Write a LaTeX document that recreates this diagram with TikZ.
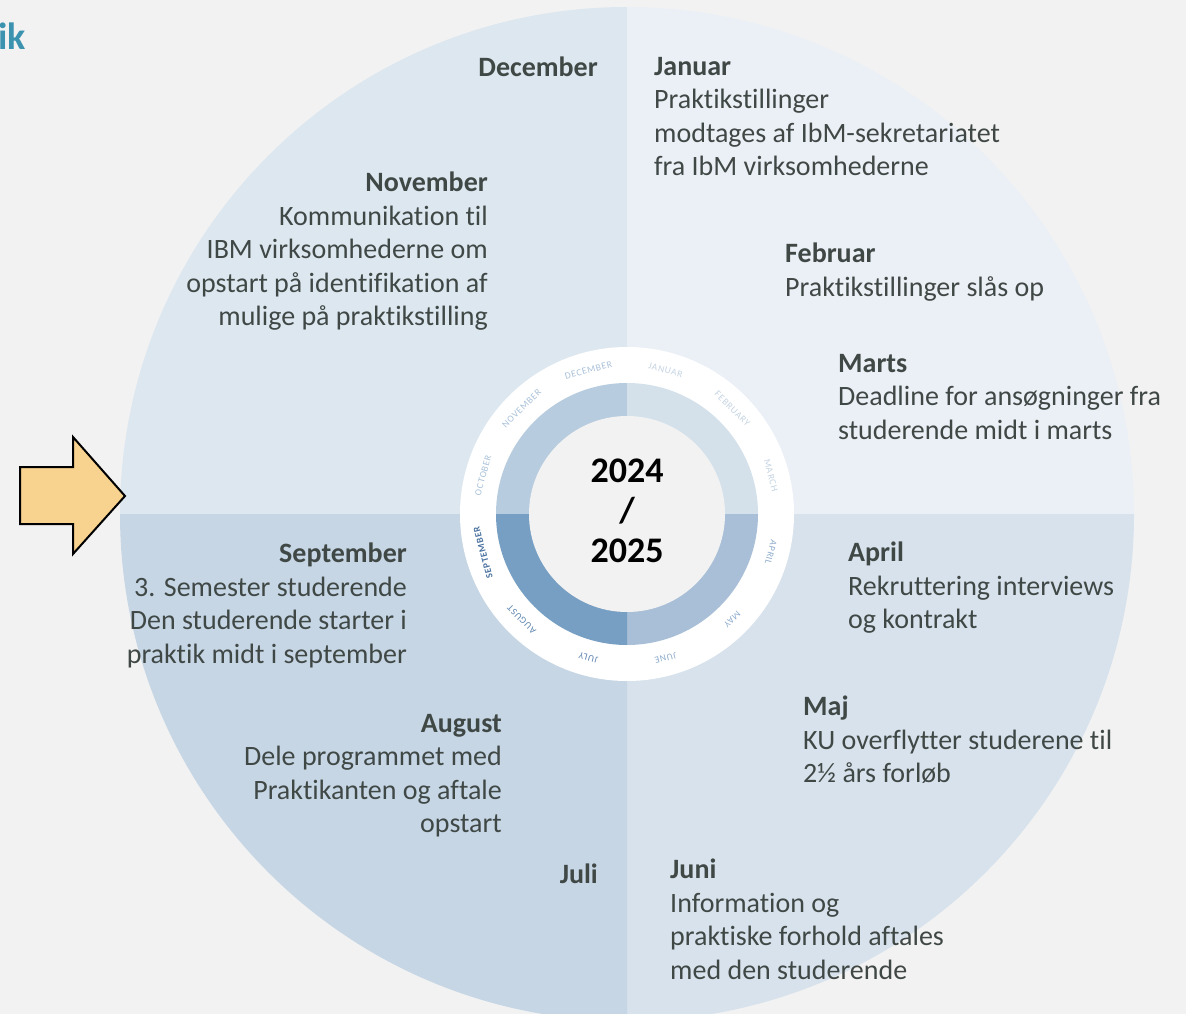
\documentclass[tikz,border=0pt]{standalone}
\usepackage{fontspec}
\setmainfont{Carlito}[Ligatures=NoCommon]
\usepackage{xcolor}
\definecolor{bg}{HTML}{F2F2F2}
\definecolor{txt}{HTML}{404846}
\definecolor{qtl}{HTML}{DDE7F0}
\definecolor{qtr}{HTML}{EBF0F6}
\definecolor{qbr}{HTML}{D7E2EC}
\definecolor{qbl}{HTML}{C6D6E5}
\definecolor{rtl}{HTML}{B8CCDF}
\definecolor{rtr}{HTML}{D4E1EB}
\definecolor{rbr}{HTML}{A8BFD7}
\definecolor{rbl}{HTML}{779FC3}
\definecolor{mpale}{HTML}{C5D4E3}
\definecolor{mlight}{HTML}{A9C1D9}
\definecolor{mmid}{HTML}{8FADCD}
\definecolor{mdark}{HTML}{5D84B0}
\definecolor{msep}{HTML}{4A72A0}
\definecolor{teal}{HTML}{3C93B0}
\definecolor{arrowfill}{HTML}{F8D38F}
\usetikzlibrary{positioning}

\begin{document}
\begin{tikzpicture}
    [
      x=1pt, y=-1pt,
      every node/.style = {inner sep=0pt, text=txt},
      monthL/.style = {anchor=north west, align=left, font=\fontsize{28}{33.5}\selectfont},
      monthR/.style = {anchor=north east, align=right, font=\fontsize{28}{33.5}\selectfont},
      ringlabel/.style = {font=\fontsize{9.5}{10}\selectfont\addfontfeatures{LetterSpace=8}}
    ]

    \useasboundingbox (0,0) rectangle (1186,1014);
    \fill[bg] (0,0) rectangle (1186,1014);
    \coordinate (c) at (627,514);

    \fill[qtl] (c) -- ++(180:507pt) arc[start angle=180, end angle=90, radius=507pt] -- cycle;
    \fill[qtr] (c) -- ++(90:507pt) arc[start angle=90, end angle=0, radius=507pt] -- cycle;
    \fill[qbr] (c) -- ++(0:507pt) arc[start angle=0, end angle=-90, radius=507pt] -- cycle;
    \fill[qbl] (c) -- ++(-90:507pt) arc[start angle=-90, end angle=-180, radius=507pt] -- cycle;

    \fill[white] (c) circle[radius=167pt];
    \fill[rtl] (c) -- ++(180:131pt) arc[start angle=180, end angle=90, radius=131pt] -- cycle;
    \fill[rtr] (c) -- ++(90:131pt) arc[start angle=90, end angle=0, radius=131pt] -- cycle;
    \fill[rbr] (c) -- ++(0:131pt) arc[start angle=0, end angle=-90, radius=131pt] -- cycle;
    \fill[rbl] (c) -- ++(-90:131pt) arc[start angle=-90, end angle=-180, radius=131pt] -- cycle;
    \fill[bg] (c) circle[radius=98pt];

    \foreach \m/\a/\col/\f in {JANUAR/75/mpale/, FEBRUARY/45/mpale/, MARCH/15/mpale/,
        APRIL/-15/mmid/, MAY/-45/mmid/, JUNE/-75/mmid/, JULY/-105/mdark/,
        AUGUST/-135/mdark/, SEPTEMBER/-165/msep/\bfseries, OCTOBER/165/mlight/,
        NOVEMBER/135/mlight/, DECEMBER/105/mlight/}
      \node[ringlabel, text=\col, rotate=\a-90] (ring-\m) at ([shift={(\a:149pt)}]c) {\f\m};

    \node[align=center, text=black, font=\fontsize{36}{40}\selectfont\bfseries] (year) at (627,511) {2024\\/\\2025};

    \node[monthR] (dec) at (598,57) {\textbf{December}};
    \node[monthL] (jan) at (654,57) {\textbf{Januar}\\Praktikstillinger\\modtages af IbM-sekretariatet\\fra IbM virksomhederne};
    \node[monthL] (feb) at (785,243) {\textbf{Februar}\\Praktikstillinger slås op};
    \node[monthL] (mar) at (838,354) {\textbf{Marts}\\Deadline for ansøgninger fra\\studerende midt i marts};
    \node[monthL] (apr) at (848,542) {\textbf{April}\\Rekruttering interviews\\og kontrakt};
    \node[monthL] (maj) at (803,696) {\textbf{Maj}\\KU overflytter studerene til\\2½ års forløb};
    \node[monthL] (jun) at (670,859) {\textbf{Juni}\\Information og\\praktiske forhold aftales\\med den studerende};
    \node[monthR] (jul) at (598,864) {\textbf{Juli}};
    \node[monthR] (aug) at (502,714) {\textbf{August}\\Dele programmet med\\Praktikanten og aftale\\opstart};
    \node[monthR] (sep) at (407,543) {\textbf{September}\\3. Semester studerende\\Den studerende starter i\\praktik midt i september};
    \node[monthR] (nov) at (488,172) {\textbf{November}\\Kommunikation til\\IBM virksomhederne om\\opstart på identifikation af\\mulige på praktikstilling};

    \node[anchor=base west, text=teal, font=\fontsize{38}{40}\selectfont\bfseries] (title) at (-2,50) {ik};

    \draw[line width=2pt, fill=arrowfill, line join=miter] (20,467) -- (73,467) -- (73,437) -- (125,496) -- (73,554) -- (73,524) -- (20,524) -- cycle;
\end{tikzpicture}
\end{document}
